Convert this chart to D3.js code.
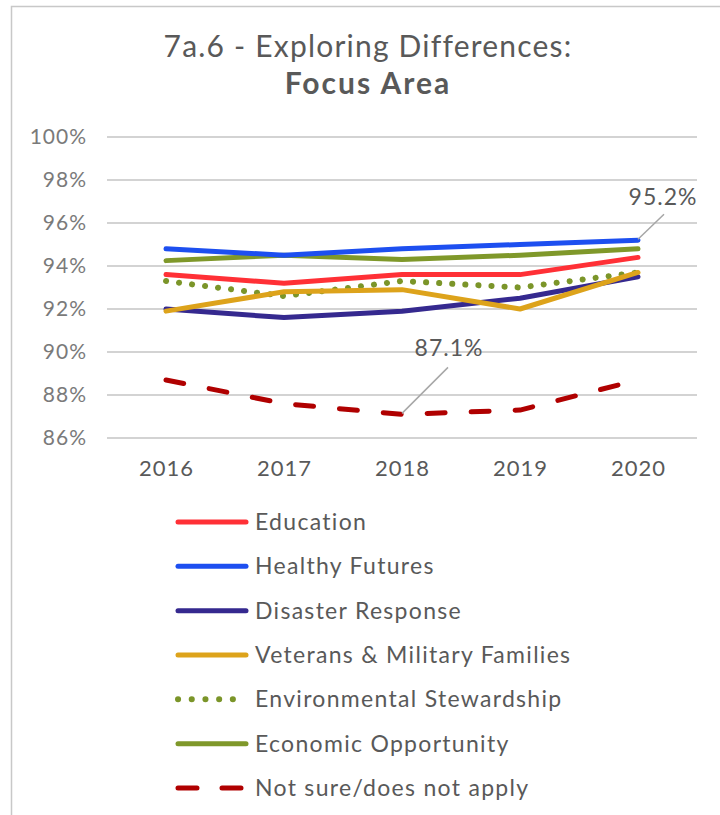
<!DOCTYPE html>
<html>
<head>
<meta charset="utf-8">
<script src="https://cdn.jsdelivr.net/npm/d3@7"></script>
<style>
  body { margin: 0; background: #fff; }
  #chart { width: 720px; height: 815px; }
  text { font-family: Lato, "Noto Sans", sans-serif; }
</style>
</head>
<body>
<div id="chart"></div>
<script>
const years = [2016, 2017, 2018, 2019, 2020];
const yTicks = [86, 88, 90, 92, 94, 96, 98, 100];

const education = [93.6, 93.2, 93.6, 93.6, 94.4];
const healthyFutures = [94.8, 94.5, 94.8, 95.0, 95.2];
const disasterResponse = [92.0, 91.6, 91.9, 92.5, 93.5];
const veterans = [91.9, 92.8, 92.9, 92.0, 93.7];
const environmental = [93.3, 92.6, 93.3, 93.0, 93.7];
const economic = [94.25, 94.5, 94.3, 94.5, 94.8];
const notSure = [88.7, 87.6, 87.1, 87.3, 88.7];

const seriesNames = ["Education", "Healthy Futures", "Disaster Response",
  "Veterans & Military Families", "Environmental Stewardship",
  "Economic Opportunity", "Not sure/does not apply"];
const seriesValues = [education, healthyFutures, disasterResponse, veterans,
  environmental, economic, notSure];
const seriesColors = ["#ff3036", "#1d4ff0", "#35298f", "#dda31b",
  "#7b9529", "#7f982a", "#b00000"];
const seriesStyle = ["solid", "solid", "solid", "solid", "dot", "solid", "dash"];

// drawing order (back to front)
const drawOrder = [6, 4, 2, 3, 0, 5, 1];

function createChart() {
  const width = 720, height = 815;
  const svg = d3.select("#chart").append("svg")
    .attr("width", width)
    .attr("height", height);

  // outer frame
  svg.append("rect")
    .attr("x", 11.5).attr("y", 6.5)
    .attr("width", 740).attr("height", 840)
    .attr("fill", "none")
    .attr("stroke", "#c8c8c8")
    .attr("stroke-width", 1.5);

  // title
  svg.append("text")
    .attr("x", 368).attr("y", 57)
    .attr("text-anchor", "middle")
    .attr("fill", "#595959")
    .style("font-size", "30px")
    .style("letter-spacing", "1.2px")
    .text("7a.6 - Exploring Differences:");
  svg.append("text")
    .attr("x", 368).attr("y", 94)
    .attr("text-anchor", "middle")
    .attr("fill", "#595959")
    .style("font-size", "30px")
    .style("letter-spacing", "2px")
    .style("font-weight", "bold")
    .text("Focus Area");

  const x = d3.scalePoint()
    .domain(years)
    .range([107, 697])
    .padding(0.5);

  const y = d3.scaleLinear()
    .domain([86, 100])
    .range([438, 137]);

  // gridlines
  svg.append("g")
    .selectAll("line")
    .data(yTicks)
    .enter().append("line")
    .attr("x1", 107).attr("x2", 697)
    .attr("y1", d => y(d)).attr("y2", d => y(d))
    .attr("stroke", "#c4c4c4")
    .attr("stroke-width", 1.5);

  // y axis
  const yAxis = svg.append("g")
    .attr("transform", "translate(107,0)")
    .call(d3.axisLeft(y).tickValues(yTicks).tickSize(0).tickPadding(20)
      .tickFormat(d => d + "%"));
  yAxis.select(".domain").remove();
  yAxis.selectAll("text")
    .attr("fill", "#7a7a7a")
    .style("font-size", "21px")
    .style("letter-spacing", "1px")
    .style("font-family", "Lato, 'Noto Sans', sans-serif");

  // x axis
  const xAxis = svg.append("g")
    .attr("transform", "translate(0,438)")
    .call(d3.axisBottom(x).tickSize(0).tickPadding(22).tickFormat(d3.format("d")));
  xAxis.select(".domain").remove();
  xAxis.selectAll("text")
    .attr("fill", "#595959")
    .style("font-size", "22px")
    .style("letter-spacing", "1px")
    .style("font-family", "Lato, 'Noto Sans', sans-serif");

  const line = d3.line()
    .x((d, i) => x(years[i]))
    .y(d => y(d));

  function styleLine(sel, k) {
    sel.attr("fill", "none")
      .attr("stroke", seriesColors[k])
      .attr("stroke-width", 5)
      .attr("stroke-linejoin", "round")
      .attr("stroke-linecap", "round");
    if (seriesStyle[k] === "dot") {
      sel.attr("stroke-dasharray", "0.1 13").attr("stroke-width", 6);
    } else if (seriesStyle[k] === "dash") {
      sel.attr("stroke-dasharray", "18 26");
    }
  }

  drawOrder.forEach(k => {
    svg.append("path")
      .datum(seriesValues[k])
      .attr("d", line)
      .call(styleLine, k);
  });

  // annotations
  const hf2020 = healthyFutures[4];
  svg.append("line")
    .attr("x1", x(2020)).attr("y1", y(hf2020) - 1)
    .attr("x2", x(2020) + 26).attr("y2", y(hf2020) - 26)
    .attr("stroke", "#a6a6a6").attr("stroke-width", 1.5);
  svg.append("text")
    .attr("x", 663).attr("y", 205)
    .attr("text-anchor", "middle")
    .attr("fill", "#595959")
    .style("font-size", "23px")
    .style("letter-spacing", "1px")
    .text(hf2020.toFixed(1) + "%");

  const ns2018 = notSure[2];
  svg.append("line")
    .attr("x1", x(2018)).attr("y1", y(ns2018) - 1)
    .attr("x2", x(2018) + 46).attr("y2", y(ns2018) - 47)
    .attr("stroke", "#a6a6a6").attr("stroke-width", 1.5);
  svg.append("text")
    .attr("x", 449).attr("y", 356)
    .attr("text-anchor", "middle")
    .attr("fill", "#595959")
    .style("font-size", "23px")
    .style("letter-spacing", "1px")
    .text(ns2018.toFixed(1) + "%");

  // legend
  const legend = svg.append("g");
  const rowY = d3.scaleLinear().domain([0, 6]).range([522, 788]);
  seriesNames.forEach((name, k) => {
    const g = legend.append("g").attr("transform", `translate(0,${rowY(k)})`);
    g.append("path")
      .attr("d", `M178,0 L246,0`)
      .call(styleLine, k);
    if (seriesStyle[k] === "dot") g.select("path").attr("stroke-dasharray", "0.1 13.6");
    if (seriesStyle[k] === "dash") g.select("path").attr("stroke-dasharray", "19 25");
    g.append("text")
      .attr("x", 255).attr("y", 8)
      .attr("fill", "#595959")
      .style("font-size", "23px")
      .style("letter-spacing", "1.3px")
      .text(name);
  });
}

createChart();
</script>
</body>
</html>
